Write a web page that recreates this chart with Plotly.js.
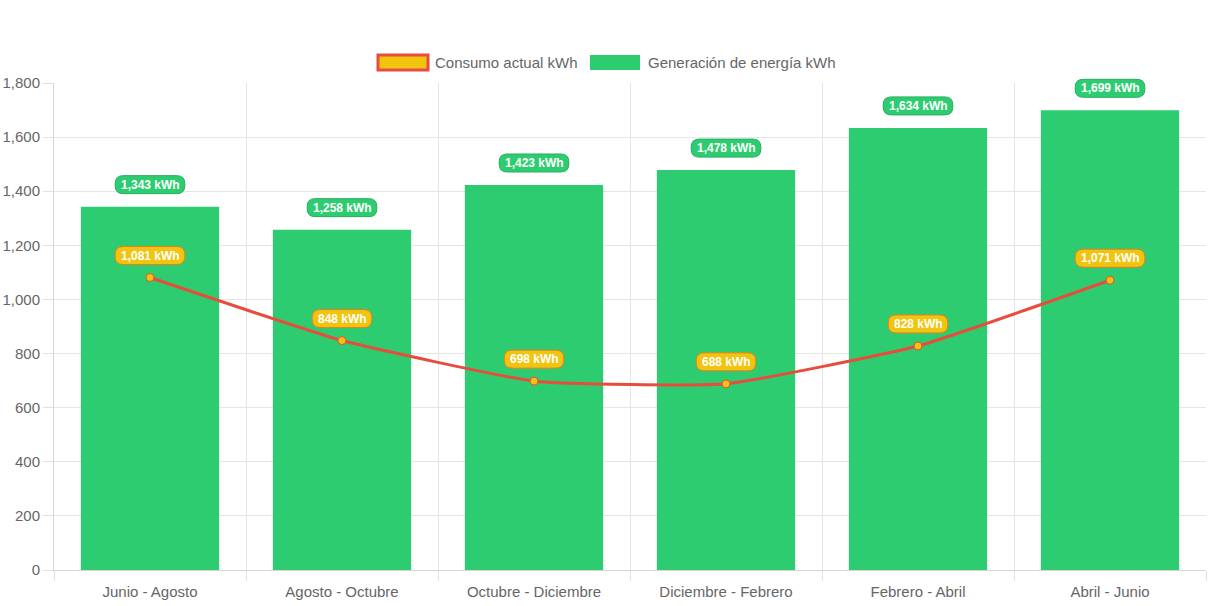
<!DOCTYPE html>
<html>
<head>
<meta charset="utf-8">
<script src="https://cdn.plot.ly/plotly-3.0.1.min.js"></script>
<style>
  html, body { margin: 0; padding: 0; background: #fff; }
  #chart { width: 1213px; height: 606px; }
</style>
</head>
<body>
<div id="chart"></div>
<script>
const categories = ["Junio - Agosto", "Agosto - Octubre", "Octubre - Diciembre", "Diciembre - Febrero", "Febrero - Abril", "Abril - Junio"];
const generacion = [1343, 1258, 1423, 1478, 1634, 1699];
const consumo = [1081, 848, 698, 688, 828, 1071];
const yTicks = [0, 200, 400, 600, 800, 1000, 1200, 1400, 1600, 1800];
const seriesNames = ["Consumo actual kWh", "Generación de energía kWh"];

const GREEN = "#2ecc71";
const GREEN_BORDER = "#27ae60";
const RED = "#e74c3c";
const YELLOW = "#f1c40f";
const ORANGE_BORDER = "#e67e22";
const FONT = "Liberation Sans, Arial, sans-serif";

const W = 1213, H = 606;
const M = { l: 54, r: 7, t: 83, b: 36 };
const PW = W - M.l - M.r, PH = H - M.t - M.b;
const YMAX = 1800;

const fmt = v => v.toLocaleString("en-US") + " kWh";

const canvas = document.createElement("canvas");
const ctx = canvas.getContext("2d");
ctx.font = "bold 12px 'Liberation Sans'";
const textW = s => ctx.measureText(s).width;

function pillPath(w, h, yOff) {
  const r = h / 2 - 1;
  const x0 = -w / 2, x1 = w / 2, y0 = yOff - h / 2, y1 = yOff + h / 2;
  return `M ${x0 + r},${y0} L ${x1 - r},${y0} Q ${x1},${y0} ${x1},${y0 + r} L ${x1},${y1 - r} Q ${x1},${y1} ${x1 - r},${y1} L ${x0 + r},${y1} Q ${x0},${y1} ${x0},${y1 - r} L ${x0},${y0 + r} Q ${x0},${y0} ${x0 + r},${y0} Z`;
}

const shapes = [];
const annotations = [];
const LABEL_OFF = 22;
function addLabel(i, v, fill, border) {
  const t = fmt(v);
  const w = textW(t) + 11;
  shapes.push({
    type: "path", xref: "paper", yref: "paper", xsizemode: "pixel", ysizemode: "pixel",
    xanchor: (i + 0.5) / categories.length, yanchor: v / YMAX,
    path: pillPath(w, 18, LABEL_OFF),
    fillcolor: fill, line: { color: border, width: 1 }, layer: "above"
  });
  annotations.push({
    x: categories[i], y: v, xref: "x", yref: "y", yshift: LABEL_OFF,
    text: "<b>" + t + "</b>", showarrow: false,
    font: { family: FONT, size: 12, color: "#ffffff" }
  });
}
generacion.forEach((v, i) => addLabel(i, v, GREEN, GREEN_BORDER));
consumo.forEach((v, i) => addLabel(i, v, YELLOW, ORANGE_BORDER));

// Legend (drawn manually to mimic wide swatches)
const px2x = px => (px - M.l) / PW;
const py2y = py => (H - M.b - py) / PH;
function legendItem(x0, x1, y0, y1, fill, border, bw, textX, label) {
  shapes.push({
    type: "rect", xref: "paper", yref: "paper",
    x0: px2x(x0), x1: px2x(x1), y0: py2y(y1), y1: py2y(y0),
    fillcolor: fill, line: { color: border, width: bw }, layer: "above"
  });
  annotations.push({
    xref: "paper", yref: "paper", x: px2x(textX), y: py2y(62.5),
    xanchor: "left", yanchor: "middle", text: label, showarrow: false,
    font: { family: FONT, size: 15, color: "#666666" }
  });
}
legendItem(378, 428, 55, 70, YELLOW, RED, 3, 433, seriesNames[0]);
legendItem(590, 640, 55, 70, GREEN, "rgba(0,0,0,0)", 0, 646, seriesNames[1]);

const traces = [
  {
    type: "bar", x: categories, y: generacion, name: seriesNames[1],
    width: 0.72, marker: { color: GREEN }, hoverinfo: "skip"
  },
  {
    type: "scatter", mode: "lines+markers", x: categories, y: consumo,
    name: seriesNames[0],
    line: { color: RED, width: 3, shape: "spline", smoothing: 0.4 },
    marker: { size: 8, color: YELLOW, line: { color: RED, width: 1 } },
    hoverinfo: "skip"
  }
];

const layout = {
  width: W, height: H,
  margin: M,
  paper_bgcolor: "#ffffff", plot_bgcolor: "#ffffff",
  font: { family: FONT, size: 15, color: "#666666" },
  showlegend: false,
  xaxis: {
    type: "category", range: [-0.5, 5.5], tickson: "boundaries",
    showgrid: true, gridcolor: "#e5e5e5", ticks: "outside", ticklen: 10,
    tickcolor: "#e0e0e0", showline: true, linecolor: "#d6d6d6",
    ticklabelstandoff: 8,
    tickfont: { family: FONT, size: 15, color: "#666666" }, fixedrange: true
  },
  yaxis: {
    range: [0, YMAX], tickvals: yTicks, tickformat: ",",
    showgrid: true, gridcolor: "#e5e5e5", zeroline: false,
    ticks: "outside", ticklen: 10, tickcolor: "#e0e0e0",
    showline: true, linecolor: "#d6d6d6",
    tickfont: { family: FONT, size: 15, color: "#666666" }, fixedrange: true
  },
  shapes: shapes,
  annotations: annotations
};

Plotly.newPlot("chart", traces, layout, { displayModeBar: false, staticPlot: true });
</script>
</body>
</html>
